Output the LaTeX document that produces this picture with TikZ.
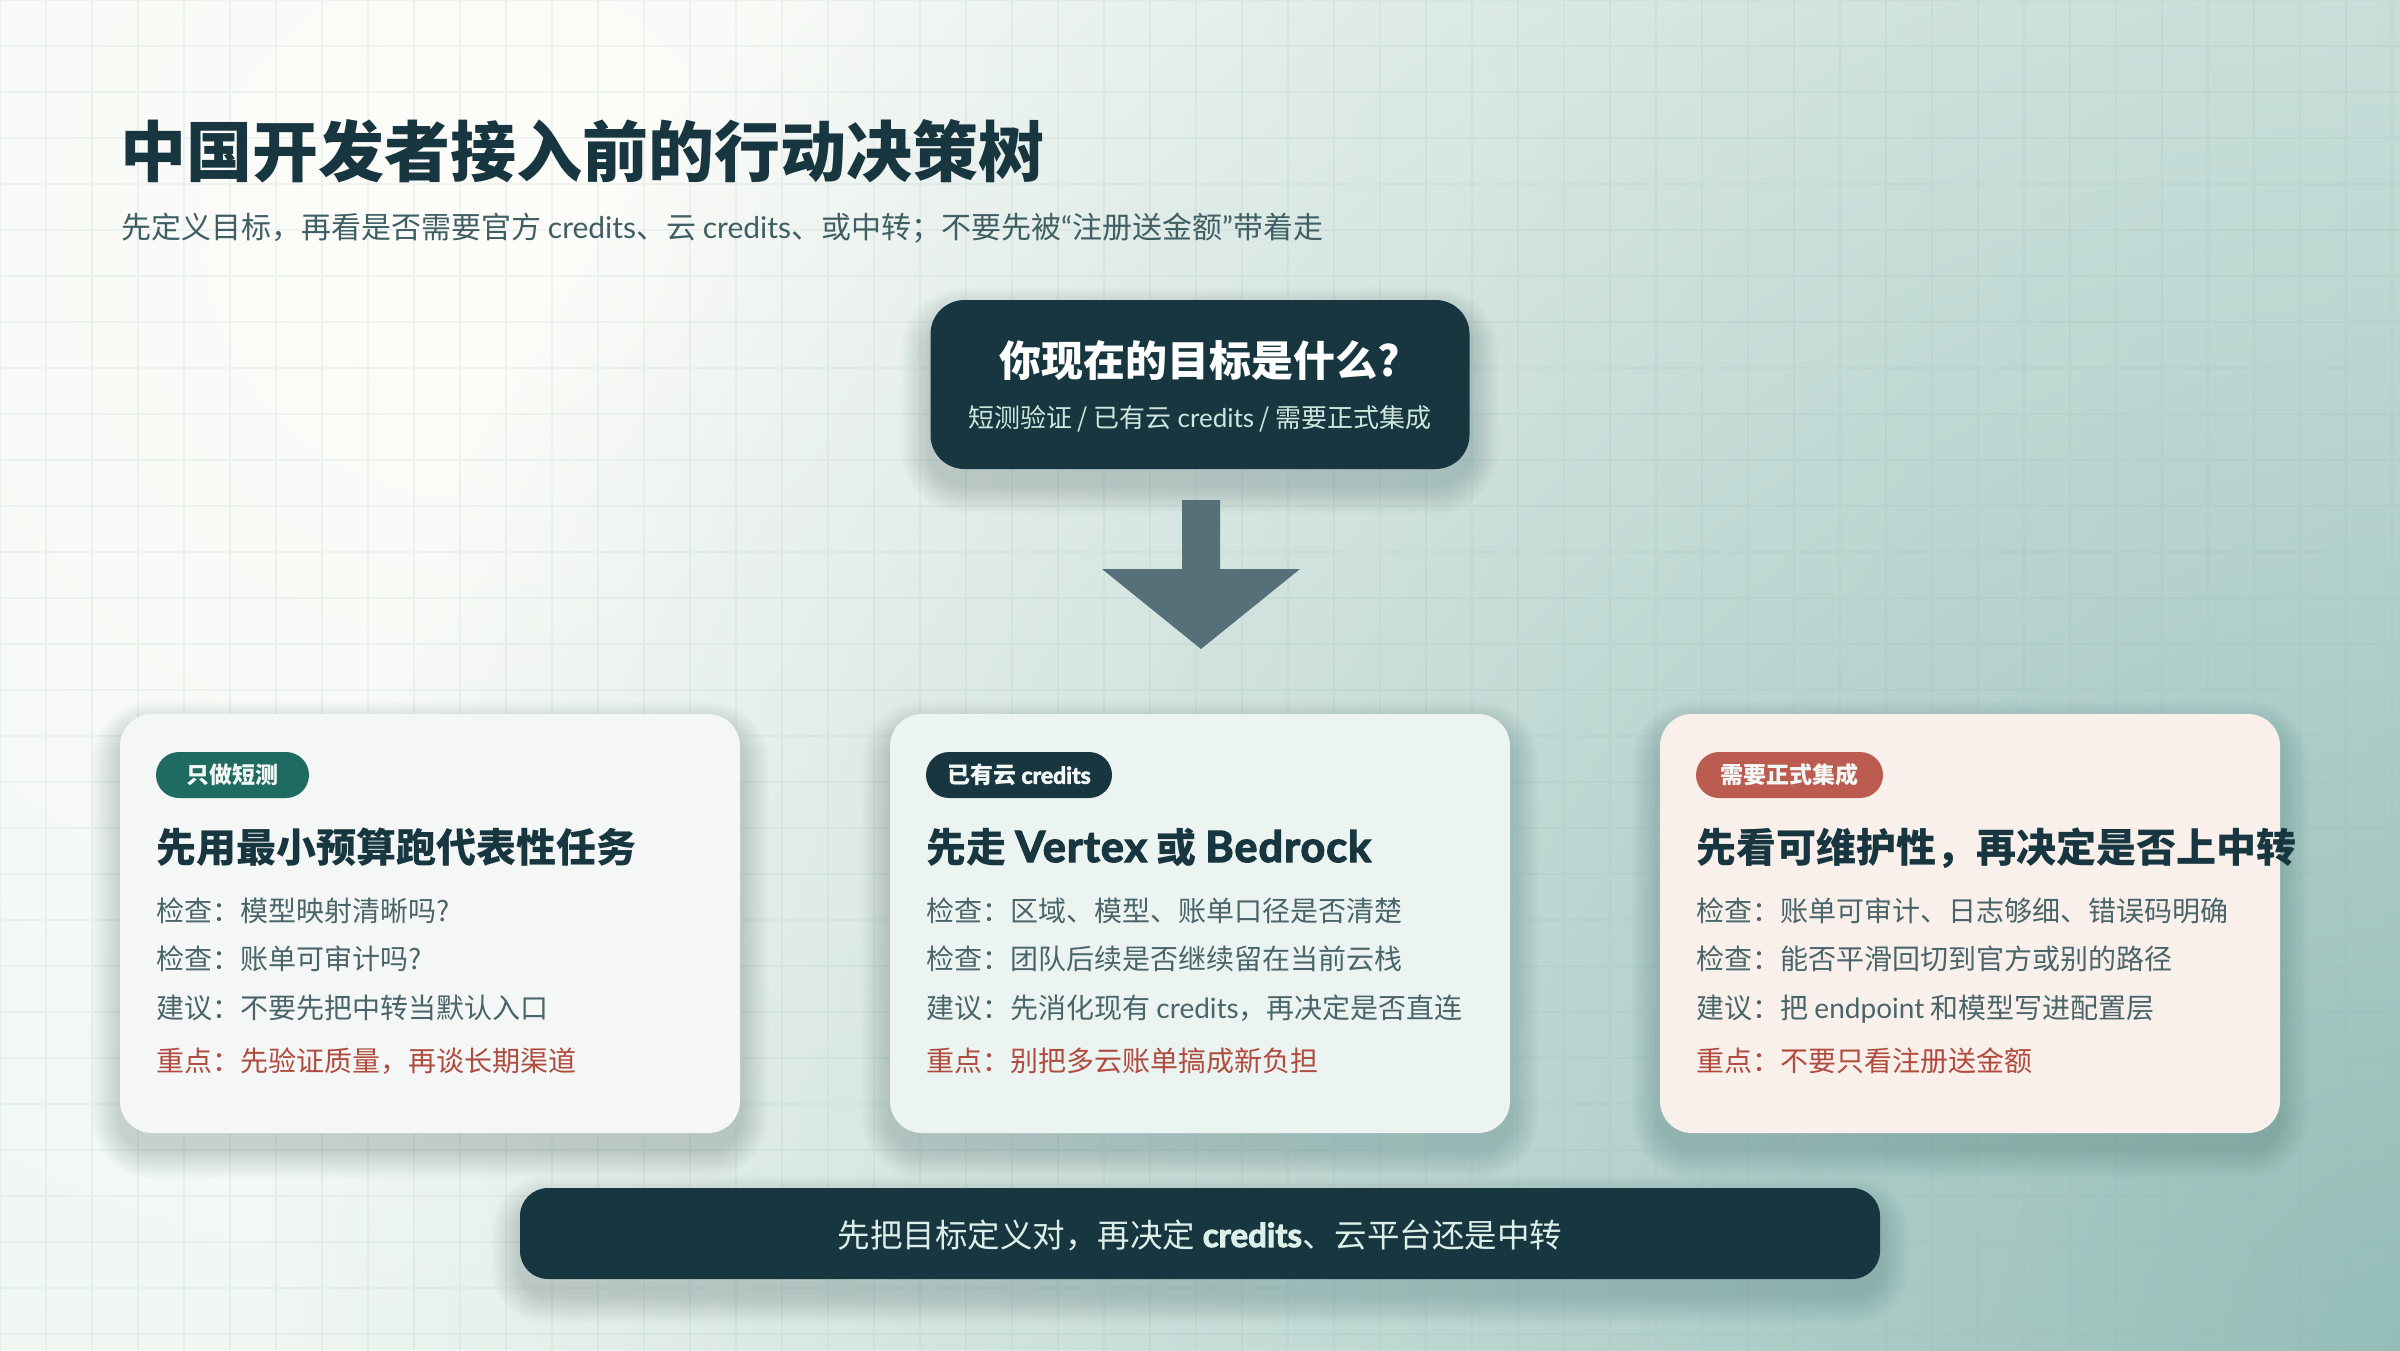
\documentclass[tikz,border=0pt]{standalone}
\usepackage{fontspec}
\setmainfont{Noto Sans CJK SC}
\newfontfamily\latf{Lato}
\newfontfamily\latheavy[BoldFeatures={FakeBold=3}]{Lato}
\newfontfamily\latwide[BoldFeatures={FakeBold=3}, LetterSpace=2.5]{Lato}
\usetikzlibrary{fadings}
\definecolor{navy}{HTML}{173640}
\definecolor{bgbase}{HTML}{D9EDE7}
\definecolor{bgwarm}{HTML}{FEFDFA}
\definecolor{bgteal}{HTML}{94BDB7}
\definecolor{gridc}{HTML}{8DB8B0}
\definecolor{subc}{HTML}{3F5F64}
\definecolor{topsub}{HTML}{CDE6DE}
\definecolor{arrowc}{HTML}{56707A}
\definecolor{cardA}{HTML}{F4F7F6}
\definecolor{cardB}{HTML}{ECF4F1}
\definecolor{cardC}{HTML}{F9F0EB}
\definecolor{tagA}{HTML}{1F6B61}
\definecolor{tagC}{HTML}{BC5C50}
\definecolor{bodyc}{HTML}{4A6569}
\definecolor{redc}{HTML}{B04B3F}
\definecolor{bartext}{HTML}{DCEFE8}
\definecolor{pilltext}{HTML}{F3F8F6}
\definecolor{shadowc}{HTML}{1E4A4A}
\tikzfading[name=glowfade, inner color=transparent!0, outer color=transparent!100]
\newcommand\latw[1]{{\latf #1}}
\newcommand\heavy[1]{{\latheavy\bfseries #1}}
\newcommand\heavywide[1]{{\latwide\bfseries #1}}
% soft shadow: centre x, centre y, width, height, corner radius
\newcommand\boxshadow[5]{%
  \foreach \k in {1,...,13}{%
    \pgfmathsetmacro\ex{\k*2.2}%
    \fill[shadowc, opacity=0.016, rounded corners={#5+\ex}]
      ({#1-#3/2-\ex},{#2-#4/2-\ex+16}) rectangle ({#1+#3/2+\ex},{#2+#4/2+\ex+16});
  }}
\tikzset{
  card/.style={rounded corners=32pt, minimum width=620pt, minimum height=419pt, inner sep=0pt},
  topbox/.style={rounded corners=34pt, fill=navy, minimum width=539pt, minimum height=169pt, inner sep=0pt},
  barbox/.style={rounded corners=28pt, fill=navy, minimum width=1360pt, minimum height=91pt, inner sep=0pt},
  pill/.style={rounded corners=23pt, minimum height=46pt, inner sep=0pt, text=pilltext, font=\fontsize{23}{23}\selectfont\bfseries},
  txt/.style={anchor=base west, inner sep=0pt},
  ctxt/.style={anchor=base, inner sep=0pt},
  hfont/.style={font=\fontsize{40}{44}\selectfont\bfseries, text=navy},
  bfont/.style={font=\fontsize{28}{32}\selectfont, text=bodyc},
  rfont/.style={font=\fontsize{28}{32}\selectfont, text=redc},
  gridline/.style={draw=gridc, line width=1.4pt, opacity=0.12},
}
\begin{document}
\begin{tikzpicture}[x=1pt,y=-1pt]
\useasboundingbox (0,0) rectangle (2400,1350);
% background
\begin{scope}
\clip (0,0) rectangle (2400,1350);
\fill[bgbase] (0,0) rectangle (2400,1350);
\fill[bgwarm, path fading=glowfade] (470,230) circle (3300pt);
\fill[bgteal, path fading=glowfade] (2420,1360) circle (2150pt);
\draw[gridline] (0,0) grid[step=46pt] (2400,1350);
\end{scope}

% shadows
\boxshadow{1200}{384.5}{539}{169}{34}
\boxshadow{430}{923.5}{620}{419}{32}
\boxshadow{1200}{923.5}{620}{419}{32}
\boxshadow{1970}{923.5}{620}{419}{32}
\boxshadow{1200}{1233.5}{1360}{91}{28}

% title
\node[txt, font=\fontsize{66}{70}\selectfont\bfseries, text=navy] (title) at (120,176) {中国开发者接入前的行动决策树};
\node[txt, font=\fontsize{30}{34}\selectfont, text=subc] (subtitle) at (121,238) {先定义目标，再看是否需要官方 \latw{credits}、云 \latw{credits}、或中转；不要先被\latw{“}注册送金额\latw{”}带着走};

% question box
\node[topbox] (q) at (1200,384.5) {};
\node[ctxt, font=\fontsize{42}{46}\selectfont\bfseries, text=white] (qt) at (1200,376) {你现在的目标是什么?};
\node[ctxt, font=\fontsize{26}{30}\selectfont, text=topsub] (qs) at (1200,427) {短测验证 / 已有云 \latw{credits} / 需要正式集成};

% block arrow
\coordinate (atop) at (1201,500);
\fill[arrowc] ([xshift=-19pt]atop) -- ([xshift=19pt]atop) -- ++(0,69) -- ++(80,0) -- ([yshift=-149pt]atop) -- ++(-99,-80) -- ++(80,0) -- cycle;

% cards
\node[card, fill=cardA] (card1) at (430,923.5) {};
\node[card, fill=cardB] (card2) at (1200,923.5) {};
\node[card, fill=cardC] (card3) at (1970,923.5) {};

% pills
\node[pill, fill=tagA, minimum width=153pt] (p1) at (232.5,775) {只做短测};
\node[pill, fill=navy, minimum width=186pt] (p2) at (1019,775) {已有云 {\fontsize{23}{24}\selectfont\heavy{credits}}};
\node[pill, fill=tagC, minimum width=187pt] (p3) at (1789.5,775) {需要正式集成};

% headings
\node[txt, hfont] (h1) at (156,862) {先用最小预算跑代表性任务};
\node[txt, hfont] (h2) at (926,862) {先走 {\fontsize{43}{44}\selectfont\heavywide{Vertex}} 或 {\fontsize{43}{44}\selectfont\heavywide{Bedrock}}};
\node[txt, hfont] (h3) at (1696,862) {先看可维护性，再决定是否上中转};

% card 1 lines
\node[txt, bfont] (a1) at (156,921) {检查：模型映射清晰吗?};
\node[txt, bfont] (a2) at (156,969) {检查：账单可审计吗?};
\node[txt, bfont] (a3) at (156,1018) {建议：不要先把中转当默认入口};
\node[txt, rfont] (a4) at (156,1071) {重点：先验证质量，再谈长期渠道};

% card 2 lines
\node[txt, bfont] (b1) at (926,921) {检查：区域、模型、账单口径是否清楚};
\node[txt, bfont] (b2) at (926,969) {检查：团队后续是否继续留在当前云栈};
\node[txt, bfont] (b3) at (926,1018) {建议：先消化现有 \latw{credits}，再决定是否直连};
\node[txt, rfont] (b4) at (926,1071) {重点：别把多云账单搞成新负担};

% card 3 lines
\node[txt, bfont] (c1) at (1696,921) {检查：账单可审计、日志够细、错误码明确};
\node[txt, bfont] (c2) at (1696,969) {检查：能否平滑回切到官方或别的路径};
\node[txt, bfont] (c3) at (1696,1018) {建议：把 \latw{endpoint} 和模型写进配置层};
\node[txt, rfont] (c4) at (1696,1071) {重点：不要只看注册送金额};

% bottom bar
\node[barbox] (bar) at (1200,1233.5) {};
\node[ctxt, font=\fontsize{32.5}{35}\selectfont, text=bartext] (bt) at (1200,1247) {先把目标定义对，再决定 {\fontsize{33}{35}\selectfont\heavy{credits}}、云平台还是中转};
\end{tikzpicture}
\end{document}
